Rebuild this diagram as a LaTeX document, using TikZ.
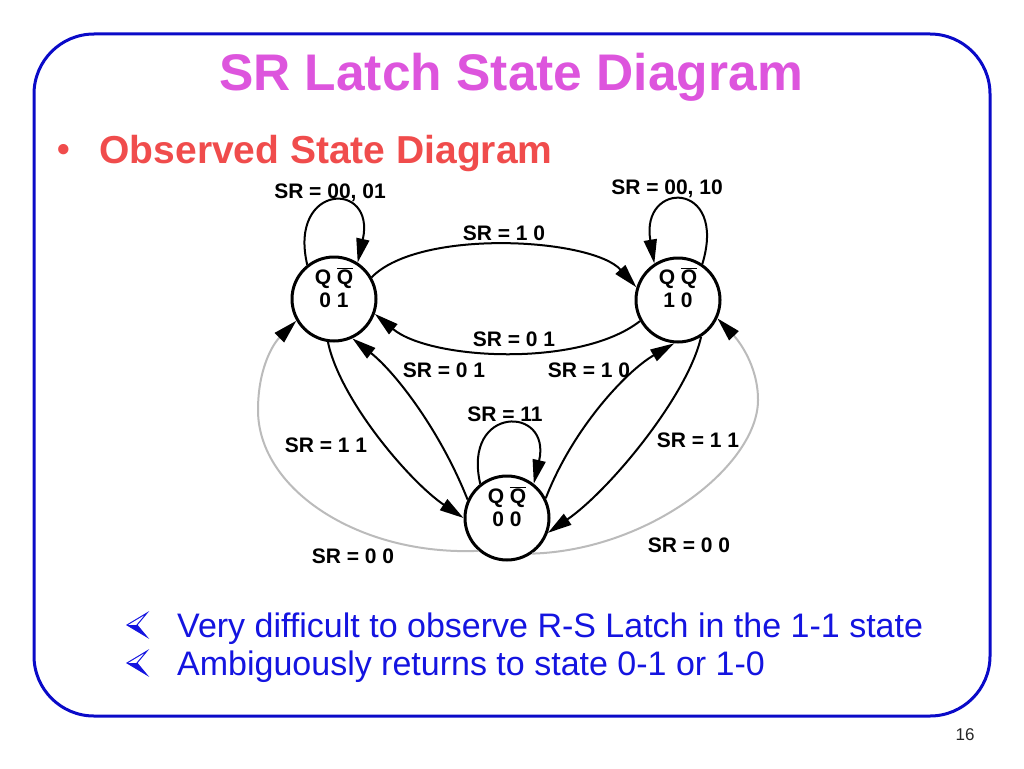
\documentclass[tikz,border=0pt]{standalone}
\usepackage{fontspec}
\setmainfont{Liberation Sans}
\usetikzlibrary{arrows.meta}
\definecolor{framecol}{HTML}{0A0AC8}
\definecolor{titlecol}{HTML}{DD55DD}
\definecolor{subcol}{HTML}{F04C4C}
\definecolor{textcol}{HTML}{1414E0}
\definecolor{backcol}{HTML}{BBBBBB}
\begin{document}
\begin{tikzpicture}[x=1pt,y=-1pt,
    state/.style={circle,draw,line width=3pt,minimum size=84pt,inner sep=0pt},
    stxt/.style={font=\fontsize{21}{23}\selectfont\bfseries,align=center,inner sep=0pt},
    lbl/.style={font=\fontsize{21}{24}\selectfont\bfseries,inner sep=1pt},
    edge/.style={line width=2pt,-{Triangle[length=24pt,width=13pt]}},
    back/.style={line width=2pt,draw=backcol,-{Triangle[length=24pt,width=13pt,color=black]}},
    dart/.style={textcol,line width=1pt,line join=miter}]
    \useasboundingbox (0,0) rectangle (1024,768);
    %% Frame
    \draw[framecol,line width=3pt,rounded corners=60pt] (34,34) rectangle (990,716);
    %% Titles
    \node[titlecol,font=\fontsize{51.5}{60}\selectfont\bfseries,anchor=base] (title) at (511,90) {SR Latch State Diagram};
    \node[subcol,font=\fontsize{39}{46}\selectfont\bfseries,anchor=base west] (sub) at (96,163) {Observed State Diagram};
    \node[subcol,font=\fontsize{36}{46}\selectfont\bfseries] (subbul) at (64,153) {•};
    %% States
    \node[state] (q01) at (334,299) {};
    \node[state] (q10) at (678,300) {};
    \node[state] (q00) at (507,518) {};
    \node[stxt] (t01) at ([yshift=11.5pt]q01.center) {Q $\overline{\mbox{Q}}$\\0 1};
    \node[stxt] (t10) at ([yshift=12.5pt]q10.center) {Q $\overline{\mbox{Q}}$\\1 0};
    \node[stxt] (t00) at ([yshift=11.5pt]q00.center) {Q $\overline{\mbox{Q}}$\\0 0};
    %% Self loops
    \draw[edge] (q01.128) .. controls (288,183) and (376,180) .. (q01.57);
    \draw[edge] (q10.56) .. controls (728,180) and (640,180) .. (q10.123);
    \draw[edge] (q00.128) .. controls (462,405) and (552,405) .. (q00.52);
    %% Transitions
    \draw[edge] (q01.30) .. controls (420,228) and (592,238) .. (q10.163);
    \draw[edge] (q10.209) .. controls (580,368) and (430,360) .. (q01.340);
    \draw[edge] (q01.262) .. controls (340,400) and (410,482) .. (q00.180);
    \draw[edge] (q00.155) .. controls (440,430) and (395,372) .. (q01.295);
    \draw[edge] (q00.27) .. controls (572,430) and (625,372) .. (q10.265);
    \draw[edge] (q10.302) .. controls (688,395) and (610,490) .. (q00.340);
    %% Return paths
    \draw[back] (q00.229) .. controls (360,556) and (258,490) .. (258,410) .. controls (258,370) and (272,345) .. (q01.210);
    \draw[back] (q00.305) .. controls (650,550) and (758,465) .. (758,400) .. controls (758,365) and (738,340) .. (q10.335);
    %% Labels
    \node[lbl] (l0001) at (330,193) {SR = 00, 01};
    \node[lbl] (l0010) at (667,189) {SR = 00, 10};
    \node[lbl] (ltop) at (504,233) {SR = 1 0};
    \node[lbl] (lmid) at (514,339) {SR = 0 1};
    \node[lbl] (lup) at (444,370) {SR = 0 1};
    \node[lbl] (lupr) at (589,370) {SR = 1 0};
    \node[lbl] (l11) at (505,414) {SR = 11};
    \node[lbl] (ldownl) at (326,445) {SR = 1 1};
    \node[lbl] (ldownr) at (698,440) {SR = 1 1};
    \node[lbl] (lbackl) at (353,556) {SR = 0 0};
    \node[lbl] (lbackr) at (689,545) {SR = 0 0};
    %% Notes
    \draw[dart] (127,625) -- (147,613) -- (137,625) -- (147,637) -- cycle;
    \fill[textcol] (127,625) -- (137,625) -- (147,637) -- cycle;
    \draw[dart] (127,663) -- (147,651) -- (137,663) -- (147,675) -- cycle;
    \fill[textcol] (127,663) -- (137,663) -- (147,675) -- cycle;
    \node[textcol,font=\fontsize{34}{38}\selectfont,anchor=base west,inner sep=0pt] (n1) at (177,637) {Very difficult to observe R-S Latch in the 1-1 state};
    \node[textcol,font=\fontsize{34}{38}\selectfont,anchor=base west,inner sep=0pt] (n2) at (177,675) {Ambiguously returns to state 0-1 or 1-0};
    \node[font=\fontsize{17}{20}\selectfont,text=black!85] (page) at (965,735) {16};
\end{tikzpicture}
\end{document}
